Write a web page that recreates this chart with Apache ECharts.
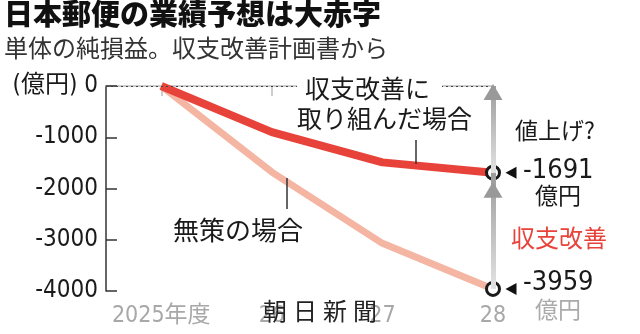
<!DOCTYPE html>
<html><head><meta charset="utf-8">
<script src="https://cdn.jsdelivr.net/npm/echarts@6/dist/echarts.min.js"></script>
<style>html,body{margin:0;padding:0;background:#fff}#c{width:640px;height:334px}</style>
</head><body><div id="c"></div>
<script>
// ---- data ----
const years = [2025, 2026, 2027, 2028];
const xTickLabels = ['2025年度', '26', '27', '28'];
const improved = [0, -900, -1490, -1691];
const noAction = [0, -1680, -3070, -3959];
const yTicks = [0, -1000, -2000, -3000, -4000];

const NUM = "'Liberation Sans Narrow','DejaVu Sans Condensed','Noto Sans CJK JP',sans-serif";
const JP = "'Noto Sans CJK JP',sans-serif";
const RED = '#e8433a';
const PALE = '#f5b5a3';

function pts(vals) {
  return vals.map((v, i) => i === vals.length - 1
    ? { value: [years[i], v], symbol: 'circle', symbolSize: 13,
        itemStyle: { color: '#fff', borderColor: '#1a1a1a', borderWidth: 3 } }
    : { value: [years[i], v], symbol: 'none' });
}
const lastYear = years[years.length - 1];
const impEnd = improved[improved.length - 1];
const noEnd = noAction[noAction.length - 1];

const shaftGrad = () => new echarts.graphic.LinearGradient(0, 1, 0, 0, [
  { offset: 0, color: '#e4e4e4' }, { offset: 1, color: '#9a9a9a' }]);

const chart = echarts.init(document.getElementById('c'), null, { renderer: 'canvas' });

function txt(text, x, y, size, opts) {
  return {
    type: 'text', z: 100,
    style: Object.assign({ text, x, y, fontSize: size, fontFamily: JP, fill: '#1a1a1a',
      align: 'left', verticalAlign: 'middle' }, opts || {})
  };
}

chart.setOption({
  animation: false,
  grid: { left: 106, right: 147, top: 86, bottom: 43 },
  xAxis: {
    type: 'value', min: 2024.5, max: 2028,
    axisLine: { show: true, lineStyle: { color: '#bdbdbd', width: 1.5 } },
    axisTick: { show: true, customValues: years, length: 10, lineStyle: { color: '#bdbdbd', width: 1.5 } },
    axisLabel: { customValues: years, margin: 14, fontSize: 23, color: '#a8a8a8', fontFamily: NUM,
      formatter: v => xTickLabels[years.indexOf(v)] },
    splitLine: { show: false }
  },
  yAxis: {
    type: 'value', min: -4000, max: 0, interval: 1000,
    axisLine: { show: true, lineStyle: { color: '#333', width: 1.5 } },
    axisTick: { show: true, inside: true, length: 11, lineStyle: { color: '#333', width: 1.5 } },
    axisLabel: { margin: 8, fontSize: 24, fontFamily: NUM,
      color: v => (v === -4000 ? '#8a8a8a' : '#1a1a1a'),
      formatter: v => (v === 0 ? '(億円) 0' : String(v)) },
    splitLine: { show: false }
  },
  series: [
    {
      type: 'line', z: 1, data: [], silent: true,
      markLine: {
        silent: true, symbol: 'none', animation: false,
        label: { show: false },
        data: [
          [{ coord: [2024.5, 0], lineStyle: { type: [2, 3], color: '#444', width: 1.2 } },
           { coord: [lastYear, 0] }],
          [{ coord: [lastYear, noEnd], lineStyle: { color: shaftGrad(), width: 5, type: 'solid' } },
           { coord: [lastYear, impEnd] }],
          [{ coord: [lastYear, impEnd], lineStyle: { color: shaftGrad(), width: 5, type: 'solid' } },
           { coord: [lastYear, 0] }]
        ]
      },
      markPoint: {
        silent: true, animation: false, label: { show: false },
        data: [
          { coord: [lastYear, 0], symbol: 'triangle', symbolSize: [19, 16], symbolOffset: [0, 6],
            itemStyle: { color: '#999' } },
          { coord: [lastYear, impEnd], symbol: 'triangle', symbolSize: [19, 16], symbolOffset: [0, 17],
            itemStyle: { color: '#999' } }
        ]
      }
    },
    {
      name: '無策の場合', type: 'line', z: 3, showSymbol: true, symbol: 'none',
      data: pts(noAction),
      lineStyle: { color: PALE, width: 7 }, itemStyle: { color: PALE },
      markPoint: {
        silent: true, animation: false, label: { show: false },
        data: [{ coord: [lastYear, noEnd], symbol: 'triangle', symbolRotate: 90, symbolSize: [12, 11],
          symbolOffset: [18, 0], itemStyle: { color: '#111' } }]
      }
    },
    {
      name: '収支改善に取り組んだ場合', type: 'line', z: 4, showSymbol: true, symbol: 'none',
      data: pts(improved),
      lineStyle: { color: RED, width: 8 }, itemStyle: { color: RED },
      markPoint: {
        silent: true, animation: false, label: { show: false },
        data: [{ coord: [lastYear, impEnd], symbol: 'triangle', symbolRotate: 90, symbolSize: [12, 11],
          symbolOffset: [18, 0], itemStyle: { color: '#111' } }]
      }
    }
  ],
  graphic: [
    txt('日本郵便の業績予想は大赤字', 4, 14, 29, { fontWeight: 900, fill: '#111' }),
    txt('単体の純損益。収支改善計画書から', 4, 48, 24, { fill: '#333' }),
    txt('収支改善に', 297, 88, 25, { backgroundColor: '#fff', padding: [0, 12, 0, 8] }),
    txt('取り組んだ場合', 297, 118, 25),
    txt('無策の場合', 173, 230, 26),
    txt('値上げ?', 515, 130, 23),
    txt(String(impEnd), 523, 171, 27, { fontFamily: NUM }),
    txt('億円', 558, 195, 23, { align: 'center' }),
    txt('収支改善', 511, 238, 24, { fill: RED }),
    txt(String(noEnd), 523, 283, 27, { fontFamily: NUM }),
    txt('億円', 558, 309, 23, { align: 'center', fill: '#aaa' }),
    txt('朝', 275, 311, 24, { align: 'center', fill: '#222' }),
    txt('日', 305, 311, 24, { align: 'center', fill: '#222' }),
    txt('新', 335, 311, 24, { align: 'center', fill: '#222' }),
    txt('聞', 365, 311, 24, { align: 'center', fill: '#222' }),
    { type: 'line', z: 100, shape: { x1: 416, y1: 140, x2: 416, y2: 164 }, style: { stroke: '#333', lineWidth: 1.5 } },
    { type: 'line', z: 100, shape: { x1: 287, y1: 178, x2: 287, y2: 209 }, style: { stroke: '#333', lineWidth: 1.5 } }
  ]
});
</script>
</body></html>
